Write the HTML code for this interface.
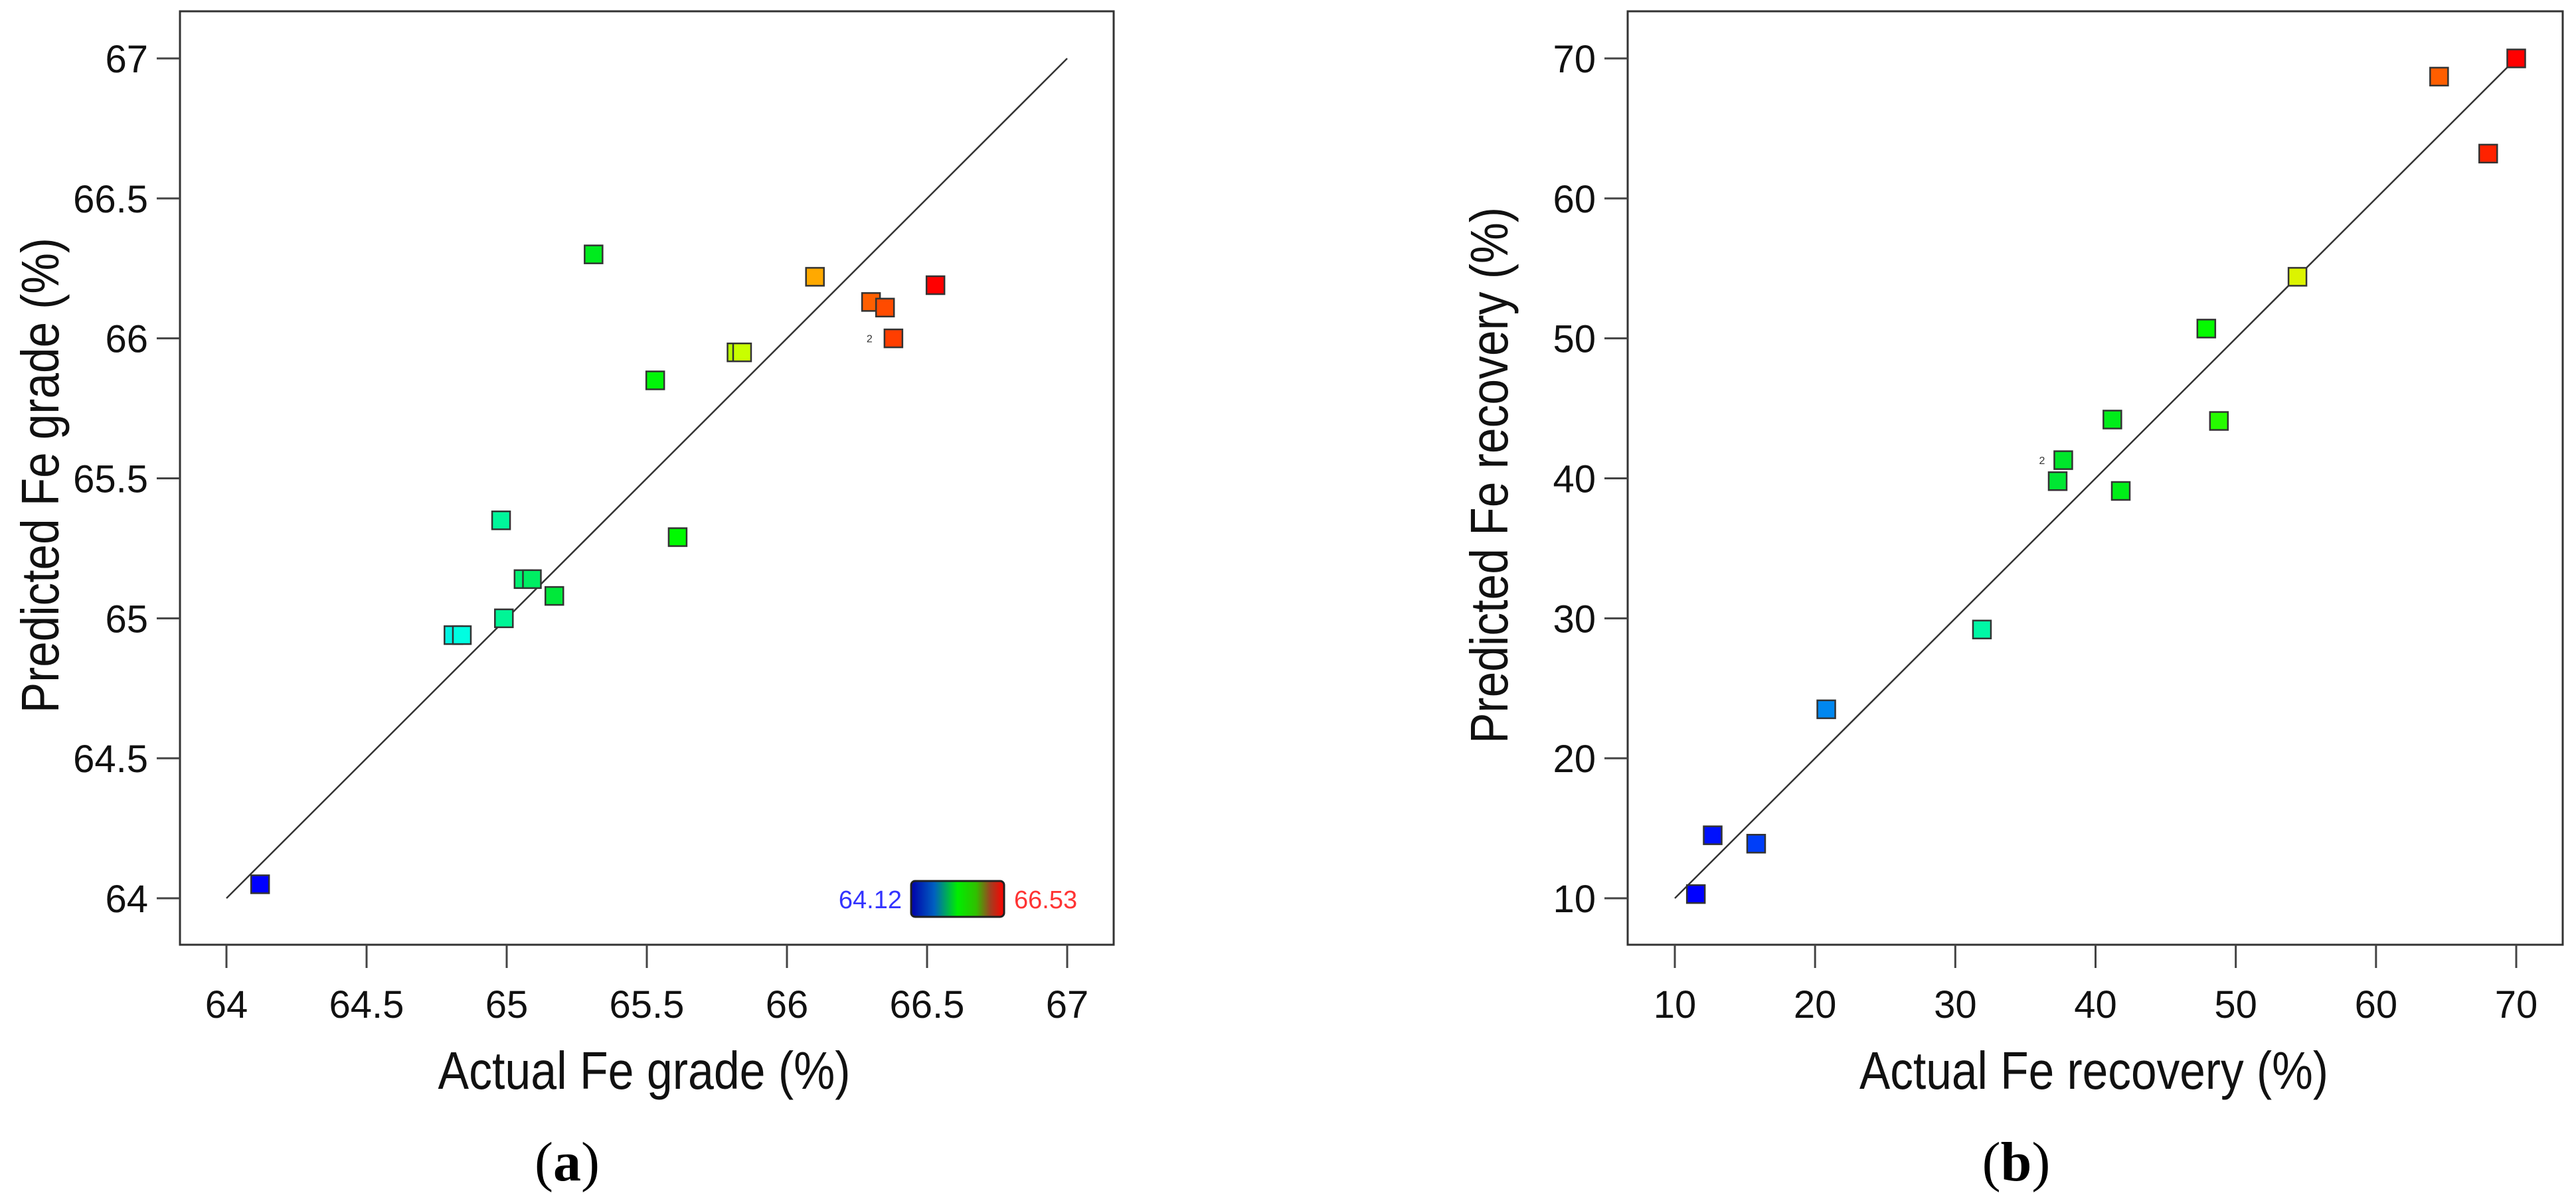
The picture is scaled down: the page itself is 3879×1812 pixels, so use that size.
<!DOCTYPE html>
<html><head><meta charset="utf-8"><style>
html,body{margin:0;padding:0;background:#fff;}
svg{display:block;}
text{font-family:"Liberation Sans","DejaVu Sans",sans-serif;}
</style></head><body>
<svg id="fig" width="3879" height="1812" viewBox="0 0 3879 1812" xmlns="http://www.w3.org/2000/svg">
<g id="pa"></g>
<g id="pb"></g>
</svg>
<script>
// Panel (a) data
const aActual = [64.12, 64.81, 64.84, 64.98, 64.99, 65.06, 65.09, 65.17, 65.31, 65.53, 65.61, 65.82, 65.84, 66.10, 66.30, 66.35, 66.38, 66.53];
const aPred   = [64.05, 64.94, 64.94, 65.35, 65.00, 65.14, 65.14, 65.08, 66.30, 65.85, 65.29, 65.95, 65.95, 66.22, 66.13, 66.11, 66.00, 66.19];
const aTicks = [64, 64.5, 65, 65.5, 66, 66.5, 67];
const aTickLabels = ["64","64.5","65","65.5","66","66.5","67"];
const aLegendRange = [64.12, 66.53];
// Panel (b) data
const bActual = [11.5, 12.7, 15.8, 20.8, 31.9, 37.3, 37.7, 41.2, 41.8, 47.9, 48.8, 54.4, 64.5, 68.0, 70.0];
const bPred   = [10.3, 14.5, 13.9, 23.5, 29.2, 39.8, 41.3, 44.2, 39.1, 50.7, 44.1, 54.4, 68.7, 63.2, 70.0];
const bTicks = [10, 20, 30, 40, 50, 60, 70];
const bTickLabels = ["10","20","30","40","50","60","70"];

const NS = "http://www.w3.org/2000/svg";
function mk(parent, tag, attrs, txt){
  const e = document.createElementNS(NS, tag);
  for (const k in attrs) e.setAttribute(k, attrs[k]);
  if (txt !== undefined) e.textContent = txt;
  parent.appendChild(e);
  return e;
}
const stops = [[0,[0,0,255]],[0.3,[0,255,225]],[0.45,[0,230,40]],[0.62,[0,250,0]],[0.72,[215,255,0]],[0.82,[255,170,0]],[0.9,[255,100,0]],[1,[255,0,0]]];
function cmap(t){
  t = Math.max(0, Math.min(1, t));
  for (let i = 1; i < stops.length; i++) {
    if (t <= stops[i][0]) {
      const a = stops[i-1], b = stops[i];
      const f = (t - a[0]) / (b[0] - a[0]);
      const c = a[1].map((v, j) => Math.round(v + (b[1][j] - v) * f));
      return "rgb(" + c.join(",") + ")";
    }
  }
  return "rgb(255,0,0)";
}

function panel(g, cfg){
  const sx = v => cfg.x0 + (v - cfg.vmin) * (cfg.x1 - cfg.x0) / (cfg.vmax - cfg.vmin);
  const sy = v => cfg.y0 - (v - cfg.vmin) * (cfg.y0 - cfg.y1) / (cfg.vmax - cfg.vmin);
  const frame = mk(g, "rect", {x: cfg.fl, y: cfg.ft, width: cfg.fr - cfg.fl, height: cfg.fb - cfg.ft, fill: "none", stroke: "#333", "stroke-width": 3});
  
  
  cfg.ticks.forEach((t, i) => {
    const xt = mk(g, "line", {x1: sx(t), x2: sx(t), y1: cfg.fb, y2: cfg.fb + 35, stroke: "#444", "stroke-width": 3});
    
    
    const xl = mk(g, "text", {x: sx(t), y: cfg.fb + 110, "font-size": 58, "text-anchor": "middle", fill: "#111"}, cfg.labels[i]);
    
    
    const yt = mk(g, "line", {x1: cfg.fl - 35, x2: cfg.fl, y1: sy(t), y2: sy(t), stroke: "#444", "stroke-width": 3});
    
    
    const yl = mk(g, "text", {x: cfg.fl - 48, y: sy(t) + 21, "font-size": 58, "text-anchor": "end", fill: "#111"}, cfg.labels[i]);
    
    
  });
  const ln = mk(g, "line", {x1: sx(cfg.vmin), y1: sy(cfg.vmin), x2: sx(cfg.vmax), y2: sy(cfg.vmax), stroke: "#333", "stroke-width": 2.5});
  
  
  const lo = Math.min(...cfg.xs), hi = Math.max(...cfg.xs);
  cfg.xs.forEach((v, i) => {
    const c = cmap((v - lo) / (hi - lo));
    const r = mk(g, "rect", {x: sx(v) - 13.5, y: sy(cfg.ys[i]) - 13.5, width: 27, height: 27, fill: c, stroke: "#333", "stroke-width": 2.5});
    
    
  });
  const xt = mk(g, "text", {x: cfg.xtX, y: 1640, "font-size": 80, "text-anchor": "middle", fill: "#111", textLength: cfg.xtLen, lengthAdjust: "spacingAndGlyphs"}, cfg.xtitle);
  
  
  const yt = mk(g, "text", {x: 0, y: 0, "font-size": 80, "text-anchor": "middle", fill: "#111", textLength: cfg.ytLen, lengthAdjust: "spacingAndGlyphs", transform: "translate(" + cfg.ytX + ",716) rotate(-90)"}, cfg.ytitle);
  
  
  const cap = mk(g, "text", {x: cfg.capX, y: 1778, "font-size": 84, "text-anchor": "middle", fill: "#000", style: "font-family:'Liberation Serif',serif"});
  
  
  mk(cap, "tspan", {}, "(");
  mk(cap, "tspan", {"font-weight": "bold"}, cfg.cap);
  mk(cap, "tspan", {}, ")");
  return {sx, sy};
}

const A = panel(document.getElementById("pa"), {
  fl: 271, fr: 1677, ft: 17, fb: 1423,
  x0: 341, x1: 1607, y0: 1353, y1: 88, vmin: 64, vmax: 67,
  ticks: aTicks, labels: aTickLabels, xs: aActual, ys: aPred,
  xtitle: "Actual Fe grade (%)", ytitle: "Predicted Fe grade (%)",
  xtX: 970, xtLen: 621, ytX: 88, ytLen: 716, capX: 854, cap: "a"
});
(function(){
  const t = mk(document.getElementById("pa"), "text", {x: A.sx(aActual[16]) - 36, y: A.sy(aPred[16]) + 6, "font-size": 16, "text-anchor": "middle", fill: "#333"}, "2");
  
  
})();
(function(){
  const g = document.getElementById("pa");
  const defs = mk(g, "defs", {});
  const lg = mk(defs, "linearGradient", {id: "lgA", x1: "0", x2: "1", y1: "0", y2: "0"});
  [["0","#0000aa"],["0.25","#0060c0"],["0.5","#00ee00"],["0.7","#30c000"],["0.85","#a04020"],["1","#ff0000"]].forEach(s => mk(lg, "stop", {offset: s[0], "stop-color": s[1]}));
  const bar = mk(g, "rect", {x: 1372, y: 1327, width: 140, height: 54, rx: 6, fill: "url(#lgA)", stroke: "#222", "stroke-width": 3});
  
  
  const l1 = mk(g, "text", {x: 1358, y: 1368, "font-size": 38, "text-anchor": "end", fill: "#3333ff"}, aLegendRange[0].toFixed(2));
  
  
  const l2 = mk(g, "text", {x: 1527, y: 1368, "font-size": 38, "text-anchor": "start", fill: "#ff3333"}, aLegendRange[1].toFixed(2));
  
  
})();

const B = panel(document.getElementById("pb"), {
  fl: 2451, fr: 3859, ft: 17, fb: 1423,
  x0: 2522, x1: 3789, y0: 1353, y1: 88, vmin: 10, vmax: 70,
  ticks: bTicks, labels: bTickLabels, xs: bActual, ys: bPred,
  xtitle: "Actual Fe recovery (%)", ytitle: "Predicted Fe recovery (%)",
  xtX: 3153, xtLen: 706, ytX: 2270, ytLen: 808, capX: 3036, cap: "b"
});
(function(){
  const t = mk(document.getElementById("pb"), "text", {x: B.sx(bActual[6]) - 32, y: B.sy(bPred[6]) + 6, "font-size": 16, "text-anchor": "middle", fill: "#333"}, "2");
  
  
})();
</script>
</body></html>
